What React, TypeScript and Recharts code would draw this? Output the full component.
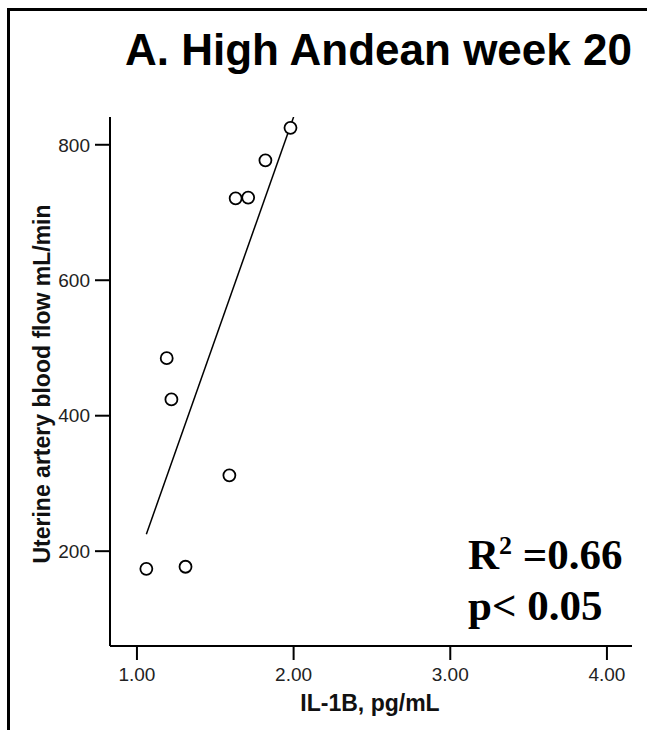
import { ScatterChart, Scatter, XAxis, YAxis } from 'recharts';

// IL-1B (pg/mL) vs uterine artery blood flow (mL/min)
const ilValues = [1.98, 1.82, 1.63, 1.71, 1.19, 1.22, 1.59, 1.06, 1.31];
const flowValues = [825, 777, 721, 722, 485, 424, 312, 174, 177];

// regression line end points
const fitX = [1.06, 2.0];
const fitY = [225, 841];

const xTicks = [1, 2, 3, 4];
const yTicks = [200, 400, 600, 800];

const points = ilValues.map((x, i) => ({ x, y: flowValues[i] }));
const fitPoints = fitX.map((x, i) => ({ x, y: fitY[i] }));

const sans = '"Liberation Sans", Arial, sans-serif';
const serif = '"Liberation Serif", "Times New Roman", serif';

const OpenCircle = (props: any) => {
  const { cx, cy } = props;
  return <circle cx={cx} cy={cy} r={6} fill="#fff" stroke="#000" strokeWidth={1.8} />;
};

const NoMark = () => <g />;

export default function App() {
  return (
    <div style={{ position: 'fixed', left: 0, top: 0, width: 647, height: 730, overflow: 'hidden', background: '#fff' }}>
      <style>{'html, body { margin: 0; overflow: hidden; }'}</style>

      <div style={{ position: 'absolute', left: 8, top: 8 }}>
        <ScatterChart width={624} height={714} margin={{ top: 109, right: 0, bottom: 36, left: 42 }}>
          <XAxis
            type="number"
            dataKey="x"
            domain={[0.828, 4.16]}
            ticks={xTicks}
            height={40}
            tickSize={14}
            tickMargin={8}
            tickFormatter={(v: number) => v.toFixed(2)}
            axisLine={{ stroke: '#000', strokeWidth: 2 }}
            tickLine={{ stroke: '#000', strokeWidth: 2 }}
            tick={{ fill: '#222', fontSize: 19, fontFamily: sans }}
          />
          <YAxis
            type="number"
            dataKey="y"
            domain={[60, 841]}
            ticks={yTicks}
            allowDataOverflow
            width={60}
            tickSize={15}
            tickMargin={5}
            axisLine={{ stroke: '#000', strokeWidth: 2 }}
            tickLine={{ stroke: '#000', strokeWidth: 2 }}
            tick={{ fill: '#222', fontSize: 19, fontFamily: sans }}
          />
          <Scatter
            data={fitPoints}
            line={{ stroke: '#000', strokeWidth: 1.5 }}
            shape={NoMark}
            isAnimationActive={false}
          />
          <Scatter data={points} shape={OpenCircle} isAnimationActive={false} />
        </ScatterChart>
      </div>

      <svg width={647} height={730} style={{ position: 'absolute', left: 0, top: 0, pointerEvents: 'none' }}>
        {/* frame: only top and left edges show */}
        <path d="M 8.5 730 V 9.5 H 647" fill="none" stroke="#000" strokeWidth={3} />
        <g transform="translate(8,8)">
          <text x={117} y={57} fontFamily={sans} fontWeight="bold" fontSize={44} fill="#000">
            A. High Andean week 20
          </text>
          <text
            transform="translate(42,376) rotate(-90)"
            textAnchor="middle"
            fontFamily={sans}
            fontWeight="bold"
            fontSize={23}
            fill="#111"
          >
            Uterine artery blood flow mL/min
          </text>
          <text x={362} y={703} textAnchor="middle" fontFamily={sans} fontWeight="bold" fontSize={23} fill="#111">
            IL-1B, pg/mL
          </text>
          <text x={460} y={561} fontFamily={serif} fontWeight="bold" fontSize={43} fill="#000">
            R<tspan fontSize={26} dy={-15}>2</tspan>
            <tspan dy={15}> =0.66</tspan>
          </text>
          <text x={460} y={612} fontFamily={serif} fontWeight="bold" fontSize={43} fill="#000">
            p&lt; 0.05
          </text>
        </g>
      </svg>
    </div>
  );
}
